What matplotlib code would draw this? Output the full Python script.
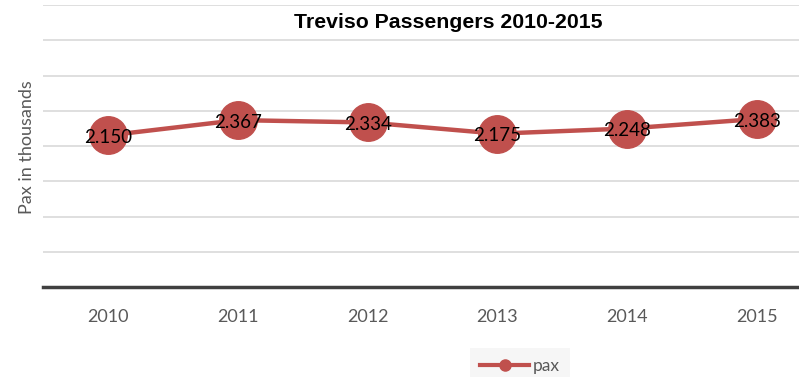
import numpy as np
import matplotlib.pyplot as plt
from matplotlib.lines import Line2D

years = ["2010", "2011", "2012", "2013", "2014", "2015"]
pax = [2.150, 2.367, 2.334, 2.175, 2.248, 2.383]
pax_labels = ["2.150", "2.367", "2.334", "2.175", "2.248", "2.383"]

red = "#c0504d"
grey_text = "#595959"

fig = plt.figure(figsize=(7.99, 3.77), dpi=100)
# plot area runs slightly past the right edge of the figure
ax = fig.add_axes([43 / 799, 90 / 377, 779 / 799, 282 / 377])

x = np.arange(len(years))
ax.plot(x, pax, color=red, lw=3.2, marker="o", ms=27, mfc=red, mec=red,
        solid_capstyle="round", zorder=3)
for xi, v, s in zip(x, pax, pax_labels):
    ax.text(xi, v - 0.03, s, ha="center", va="center", fontsize=13.5,
            family="Lato", color="black", zorder=4)

ax.set_xlim(-0.5, 5.5)
ax.set_ylim(0, 4.0)
ax.set_yticks(np.arange(0.5, 4.01, 0.5))
ax.set_yticklabels([])
ax.tick_params(axis="y", length=0)
ax.yaxis.grid(True, color="#d9d9d9", lw=1.2)
ax.set_axisbelow(True)

ax.set_xticks(x)
ax.set_xticklabels(years, family="Lato", fontsize=13, color=grey_text)
ax.tick_params(axis="x", length=0, pad=16)

for side in ["top", "right", "left"]:
    ax.spines[side].set_visible(False)
ax.spines["bottom"].set_color("#404040")
ax.spines["bottom"].set_linewidth(2.5)

fig.text(448 / 799, 1 - 23 / 377, "Treviso Passengers 2010-2015",
         ha="center", va="center", fontsize=15.3, fontweight="bold",
         family="Liberation Sans")
fig.text(27 / 799, 1 - 147 / 377, "Pax in thousands", rotation=90,
         ha="center", va="center", fontsize=13, family="Lato",
         color=grey_text)

handle = Line2D([], [], color=red, lw=3, marker="o", ms=8, mfc=red, mec=red)
leg = fig.legend([handle], ["pax"], loc="center", bbox_to_anchor=(520 / 799, 1 - 366 / 377),
                 frameon=True, fancybox=False, handlelength=2.8, handletextpad=0.2,
                 prop={"family": "Lato", "size": 12.5}, borderpad=0.6,
                 borderaxespad=0)
leg.get_frame().set_facecolor("#f4f4f4")
leg.get_frame().set_edgecolor("none")
for t in leg.get_texts():
    t.set_color(grey_text)

fig.savefig("out.png", dpi=100)
